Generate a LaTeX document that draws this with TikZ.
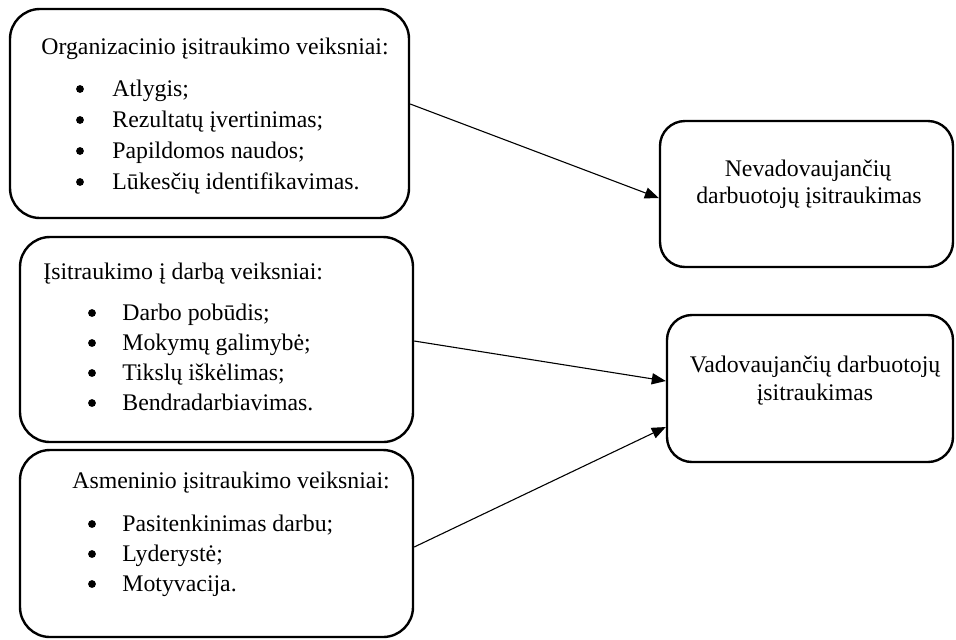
\documentclass[tikz,border=0pt]{standalone}
\usepackage{fontspec}
\setmainfont{Liberation Serif}
\usetikzlibrary{arrows.meta}
\begin{document}
\begin{tikzpicture}[x=0.5pt,y=-0.5pt,
  card/.style={draw, line width=1.2pt, rounded corners=15pt, inner sep=0pt},
  goal/.style={draw, line width=1.2pt, rounded corners=12.5pt, inner sep=0pt},
  txt/.style={anchor=base west, inner sep=0pt, font=\fontsize{11.9pt}{14pt}\selectfont},
  ctxt/.style={anchor=base, inner sep=0pt, font=\fontsize{11.9pt}{14pt}\selectfont},
  dot/.style={circle, fill, inner sep=0pt, minimum size=3.9pt},
  link/.style={line width=0.55pt, -{Triangle[length=7pt,width=5.6pt]}}]
\useasboundingbox (0,0) rectangle (956,639);

% factor boxes
\node (org)  [card, minimum width=199.5pt, minimum height=104.5pt] at (209.5,113.5) {};
\node (work) [card, minimum width=196.5pt, minimum height=102.5pt] at (216.5,339.5) {};
\node (pers) [card, minimum width=196.5pt, minimum height=93.5pt]  at (216.5,543.5) {};

% outcome boxes
\node (nonman) [goal, minimum width=146.5pt, minimum height=73pt]  at (806.5,194) {};
\node (man)    [goal, minimum width=143pt,   minimum height=73.5pt] at (810,388.5) {};

% organisational factors
\node (t1) [txt] at (41,54) {Organizacinio įsitraukimo veiksniai:};
\node (d11) [dot] at (80,89) {};  \node (i11) [txt] at (112,96)  {Atlygis;};
\node (d12) [dot] at (80,120) {}; \node (i12) [txt] at (112,127) {Rezultatų įvertinimas;};
\node (d13) [dot] at (80,151) {}; \node (i13) [txt] at (112,158) {Papildomos naudos;};
\node (d14) [dot] at (80,182) {}; \node (i14) [txt] at (112,189) {Lūkesčių identifikavimas.};

% work factors
\node (t2) [txt] at (43,279) {Įsitraukimo į darbą veiksniai:};
\node (d21) [dot] at (92,313) {}; \node (i21) [txt] at (122,320) {Darbo pobūdis;};
\node (d22) [dot] at (92,343) {}; \node (i22) [txt] at (122,350) {Mokymų galimybė;};
\node (d23) [dot] at (92,373) {}; \node (i23) [txt] at (122,380) {Tikslų iškėlimas;};
\node (d24) [dot] at (92,403) {}; \node (i24) [txt] at (122,410) {Bendradarbiavimas.};

% personal factors
\node (t3) [txt] at (72,488) {Asmeninio įsitraukimo veiksniai:};
\node (d31) [dot] at (92,524) {}; \node (i31) [txt] at (122,531) {Pasitenkinimas darbu;};
\node (d32) [dot] at (92,554) {}; \node (i32) [txt] at (122,561) {Lyderystė;};
\node (d33) [dot] at (92,584) {}; \node (i33) [txt] at (122,591) {Motyvacija.};

% outcome labels
\node (o1a) [ctxt] at (808,176) {Nevadovaujančių};
\node (o1b) [ctxt] at (809,203) {darbuotojų įsitraukimas};
\node (o2a) [ctxt] at (815,372) {Vadovaujančių darbuotojų};
\node (o2b) [ctxt] at (815,400) {įsitraukimas};

% connectors
\draw[link] ([yshift=4.75pt]org.east) -- ([yshift=-2pt]nonman.west);
\draw[link] ([yshift=-0.75pt]work.east) -- ([yshift=3.75pt]man.west);
\draw[link] ([yshift=-1.75pt]pers.east) -- ([yshift=-19.25pt]man.west);
\end{tikzpicture}
\end{document}
